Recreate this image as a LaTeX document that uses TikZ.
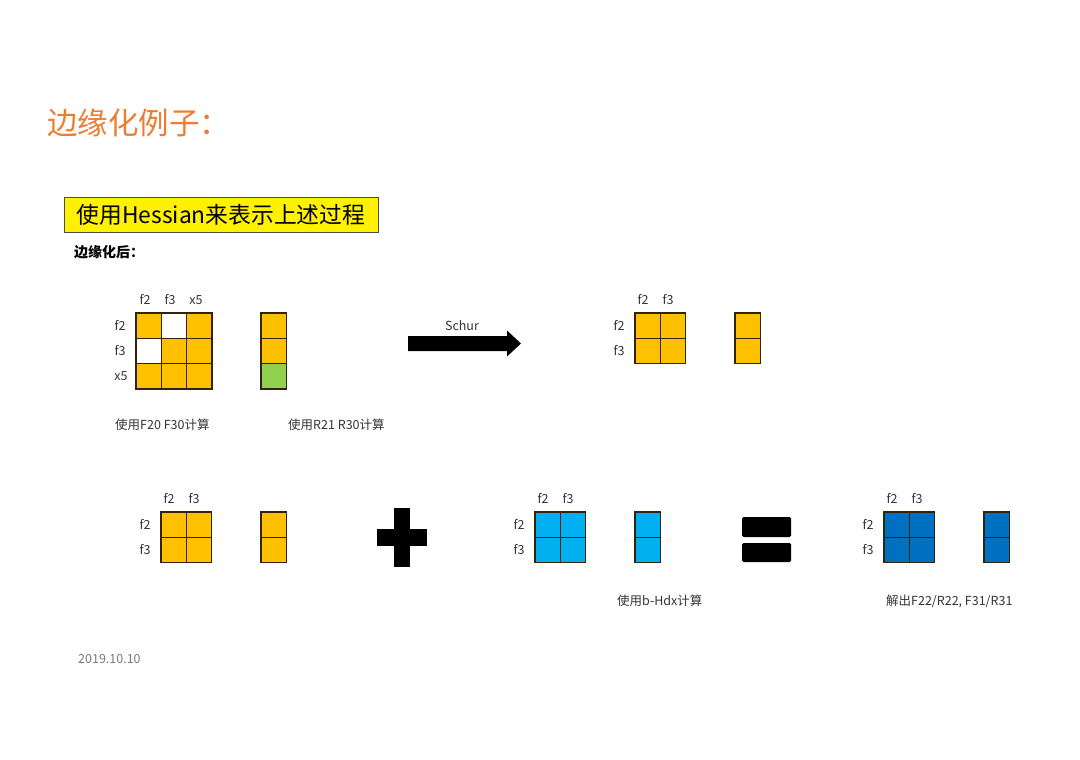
\documentclass[tikz,border=0pt]{standalone}
\usepackage{fontspec}
\setmainfont{Noto Sans CJK SC}
\definecolor{ttl}{RGB}{237,125,49}
\definecolor{gold}{RGB}{255,192,0}
\definecolor{lgreen}{RGB}{146,208,80}
\definecolor{sky}{RGB}{0,176,240}
\definecolor{dblue}{RGB}{0,112,192}
\definecolor{edge}{RGB}{50,35,10}
\definecolor{dategray}{RGB}{120,120,120}
\tikzset{
  cell/.style={draw=edge, line width=1.6pt},
  lbl/.style={inner sep=0pt, text height=9pt, text depth=0pt, font=\fontsize{12.5}{12}\selectfont, text=black!80},
  captext/.style={inner sep=0pt, anchor=west, font=\fontsize{12.5}{12}\selectfont, text=black!80},
  blk/.style={fill=black},
}
\newcommand{\mygrid}[6]{% x y cols rows size fill
  \foreach \i in {1,...,#3}{\foreach \j in {1,...,#4}{
    \filldraw[cell, fill=#6] ({#1+(\i-1)*#5},{#2+(\j-1)*#5}) rectangle ++(#5,#5);}}
}
\begin{document}
\begin{tikzpicture}[x=1pt,y=-1pt]
\useasboundingbox (0,0) rectangle (1080,760);
% title
\node[anchor=west, inner sep=0pt, text=ttl, font=\fontsize{30.5}{31}\selectfont] (title) at (47,123) {边缘化例子：};
% yellow box
\node[draw=black!70, fill=yellow, line width=0.8pt, minimum width=314pt, minimum height=35pt, inner sep=0pt, font=\fontsize{22.8}{23}\selectfont] (hbox) at (221,214.5) {使用Hessian来表示上述过程};
\node[anchor=west, inner sep=0pt, font=\bfseries\fontsize{14}{14}\selectfont] (after) at (74,252) {边缘化后：};
% matrix 1 (3x3)
\mygrid{136}{313}{3}{3}{25.3}{gold}
\filldraw[cell, fill=white] (161.3,313) rectangle ++(25.3,25.3);
\filldraw[cell, fill=white] (136,338.3) rectangle ++(25.3,25.3);
\node[lbl] (c1) at (145,300) {f2};
\node[lbl] (c2) at (170,300) {f3};
\node[lbl] (c3) at (196,300) {x5};
\node[lbl] (r1) at (120,326) {f2};
\node[lbl] (r2) at (120,351) {f3};
\node[lbl] (r3) at (121,376) {x5};
% vector 1
\mygrid{261}{313}{1}{3}{25.3}{gold}
\filldraw[cell, fill=lgreen] (261,363.6) rectangle ++(25.3,25.3);
\node[captext] (cap1) at (115,425) {使用F20 F30计算};
\node[captext] (cap2) at (288,425) {使用R21 R30计算};
% Schur arrow
\fill[blk] (408,336) -- (507,336) -- (507,330.5) -- (521,343.5) -- (507,356.5) -- (507,351) -- (408,351) -- cycle;
\node[lbl] (schur) at (462,326) {Schur};
% matrix 2
\mygrid{635}{313}{2}{2}{25.3}{gold}
\node[lbl] (m2c1) at (643,300) {f2};
\node[lbl] (m2c2) at (668,300) {f3};
\node[lbl] (m2r1) at (619,326) {f2};
\node[lbl] (m2r2) at (619,351) {f3};
\mygrid{735}{313}{1}{2}{25.3}{gold}
% bottom row: gold
\mygrid{161}{512}{2}{2}{25.3}{gold}
\node[lbl] (b1c1) at (169,499) {f2};
\node[lbl] (b1c2) at (194,499) {f3};
\node[lbl] (b1r1) at (145,525) {f2};
\node[lbl] (b1r2) at (145,550) {f3};
\mygrid{261}{512}{1}{2}{25.3}{gold}
% plus
\fill[blk] (393.5,508) rectangle (410,567);
\fill[blk] (377,529) rectangle (427,546);
% blue
\mygrid{535}{512}{2}{2}{25.3}{sky}
\node[lbl] (b2c1) at (543,499) {f2};
\node[lbl] (b2c2) at (568,499) {f3};
\node[lbl] (b2r1) at (519,525) {f2};
\node[lbl] (b2r2) at (519,550) {f3};
\mygrid{635}{512}{1}{2}{25.3}{sky}
\node[captext] (cap3) at (617,601) {使用b-Hdx计算};
% equals
\fill[blk, rounded corners=1.5pt] (742,517) rectangle (791,537);
\fill[blk, rounded corners=1.5pt] (742,543) rectangle (791,562);
% dark blue
\mygrid{884}{512}{2}{2}{25.3}{dblue}
\node[lbl] (b3c1) at (892,499) {f2};
\node[lbl] (b3c2) at (917,499) {f3};
\node[lbl] (b3r1) at (868,525) {f2};
\node[lbl] (b3r2) at (868,550) {f3};
\mygrid{984}{512}{1}{2}{25.3}{dblue}
\node[captext] (cap4) at (886,601) {解出F22/R22, F31/R31};
% date
\node[anchor=west, inner sep=0pt, text=dategray, font=\fontsize{12.5}{12}\selectfont] (date) at (78,659) {2019.10.10};
\end{tikzpicture}
\end{document}
